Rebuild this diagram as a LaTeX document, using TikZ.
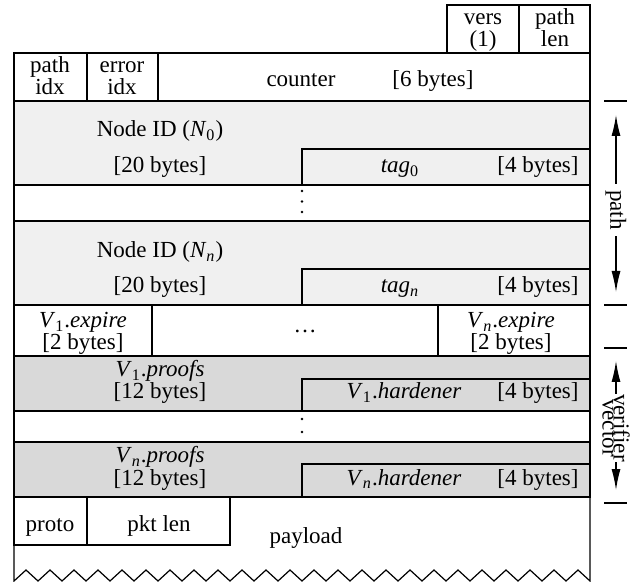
\documentclass[tikz,border=0pt]{standalone}
\usepackage{fontspec}
\setmainfont{Liberation Serif}
\usepackage{tikz}
\usetikzlibrary{calc}
\usetikzlibrary{arrows.meta}
\usetikzlibrary{positioning}
\definecolor{idgray}{RGB}{240, 240, 240}
\definecolor{vfgray}{RGB}{217, 217, 217}
\tikzset{
    field/.style={draw=black, line width=0.6pt},
    lbl/.style={anchor=base, inner sep=0pt, font=\fontsize{11.5}{11}\selectfont},
    lbl2/.style={lbl, align=center},
    tick/.style={line width=0.6pt},
    span/.style={line width=0.6pt, -{Latex[length=10.5pt, width=4.5pt]}},
}
\newcommand{\idx}[1]{\textsubscript{#1}}

\begin{document}
\begin{tikzpicture}[x=0.5pt, y=-0.5pt]
            \useasboundingbox (0,0) rectangle (637,582);
            % header words
            \draw[field] (447,  5) rectangle (519, 53);
            \draw[field] (519,  5) rectangle (590, 53);
            \draw[field] ( 14, 53) rectangle (590,101);
            \draw[field] ( 87, 53) -- ( 87,101);
            \draw[field] (158, 53) -- (158,101);
            % path entries
            \filldraw[field, fill=idgray] ( 14,101) rectangle (590,185);
            \draw[field] (302,185) |- (590,149);
            \draw[field] ( 14,185) rectangle (590,221);
            \filldraw[field, fill=idgray] ( 14,221) rectangle (590,305);
            \draw[field] (302,305) |- (590,269);
            % expiry list
            \draw[field] ( 14,305) rectangle (590,356);
            \draw[field] (152,305) -- (152,356);
            \draw[field] (438,305) -- (438,356);
            % verifier entries
            \filldraw[field, fill=vfgray] ( 14,356) rectangle (590,411);
            \draw[field] (302,411) |- (590,379);
            \draw[field] ( 14,411) rectangle (590,442);
            \filldraw[field, fill=vfgray] ( 14,442) rectangle (590,497);
            \draw[field] (302,497) |- (590,464);
            % payload, torn off at the bottom
            \draw[field] ( 14,497) -- ( 14,581)
                \foreach \k in {0,...,23} { -- ({26+24*\k},570) -- ({38+24*\k},581) }
                -- (590,497);
            \draw[field] ( 14,497) rectangle ( 87,545);
            \draw[field] ( 87,497) rectangle (230,545);

            % multi-line labels sit on the baseline of their last line
            \node[lbl2] (vers)     at (483, 47) {vers\\(1)};
            \node[lbl2] (pathlen)  at (555, 47) {path\\len};
            \node[lbl2] (pathidx)  at ( 50, 95) {path\\idx};
            \node[lbl2] (erridx)   at (122, 95) {error\\idx};
            \node[lbl]  (ctr)      at (301, 87) {counter};
            \node[lbl]  (ctrsize)  at (433, 87) {[6 bytes]};

            \node[lbl]  (idA)      at (160,137) {Node ID (\textit{N}\idx{0})};
            \node[lbl]  (idAsize)  at (160,173) {[20 bytes]};
            \node[lbl]  (tagA)     at (400,173) {\textit{tag}\idx{0}};
            \node[lbl]  (tagAsize) at (538,173) {[4 bytes]};
            \foreach \y in {191,201.5,212} \fill (302,\y) circle (0.7pt);
            \node[lbl]  (idB)      at (160,258) {Node ID (\textit{N}\idx{\textit{n}})};
            \node[lbl]  (idBsize)  at (160,293) {[20 bytes]};
            \node[lbl]  (tagB)     at (400,293) {\textit{tag}\idx{\textit{n}}};
            \node[lbl]  (tagBsize) at (538,293) {[4 bytes]};

            \node[lbl2] (expA)     at ( 83,350) {\textit{V}\idx{1}.\textit{expire}\\{}[2 bytes]};
            \node[lbl]  (expdots)  at (305,333) {\dots};
            \node[lbl2] (expB)     at (511,350) {\textit{V}\idx{\textit{n}}.\textit{expire}\\{}[2 bytes]};

            \node[lbl2] (prfA)     at (160,399) {\textit{V}\idx{1}.\textit{proofs}\\{}[12 bytes]};
            \node[lbl]  (hrdA)     at (404,399) {\textit{V}\idx{1}.\textit{hardener}};
            \node[lbl]  (hrdAsize) at (538,399) {[4 bytes]};
            \foreach \y in {419,432} \fill (302,\y) circle (0.7pt);
            \node[lbl2] (prfB)     at (160,485) {\textit{V}\idx{\textit{n}}.\textit{proofs}\\{}[12 bytes]};
            \node[lbl]  (hrdB)     at (404,485) {\textit{V}\idx{\textit{n}}.\textit{hardener}};
            \node[lbl]  (hrdBsize) at (538,485) {[4 bytes]};

            \node[lbl]  (proto)    at ( 50,531) {proto};
            \node[lbl]  (pktlen)   at (159,531) {pkt len};
            \node[lbl]  (payload)  at (306,543) {payload};

            % extents of the path and verifier vector
            \foreach \y in {101,305,348,503} \draw[tick] (604,\y) -- (627,\y);
            \node[lbl2, anchor=center, rotate=-90, inner xsep=3pt] (pathlbl) at (616,210) {path};
            \coordinate (pathtop) at (616,115);
            \coordinate (pathbot) at (616,292);
            \draw[span] (pathlbl.west) -- (pathtop);
            \draw[span] (pathlbl.east) -- (pathbot);
            \node[lbl2, anchor=center, rotate=-90] (vvlbl) at (616,428) {verifier\\[-5.5pt]vector};
            \coordinate (vvtop) at (616,361);
            \coordinate (vvbot) at (616,490);
            \draw[span] (vvlbl.west) -- (vvtop);
            \draw[span] (vvlbl.east) -- (vvbot);
\end{tikzpicture}
\end{document}
